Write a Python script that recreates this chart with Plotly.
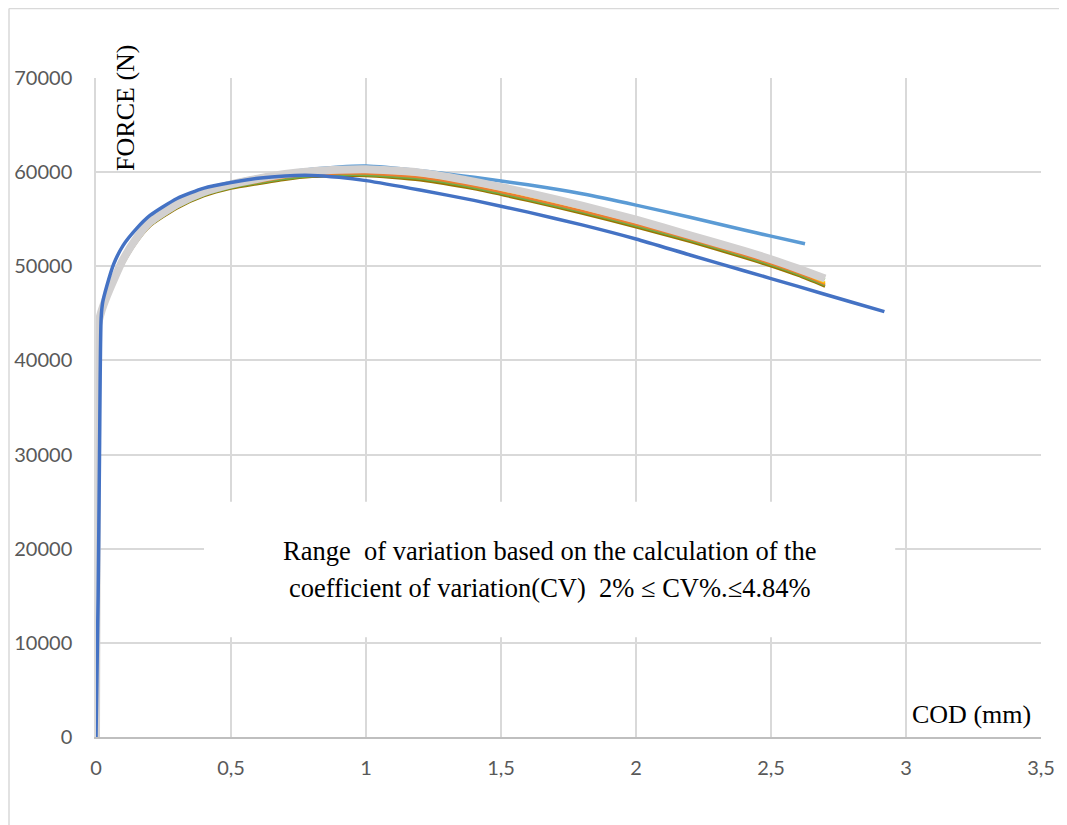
import plotly.graph_objects as go

# ---------------- data ----------------
x_ticks = [0, 0.5, 1, 1.5, 2, 2.5, 3, 3.5]
x_ticktext = ["0", "0,5", "1", "1,5", "2", "2,5", "3", "3,5"]
y_ticks = [0, 10000, 20000, 30000, 40000, 50000, 60000, 70000]
y_ticktext = ["0", "10000", "20000", "30000", "40000", "50000", "60000", "70000"]

# upper curve (light blue)
lb_x = [0, 0.004, 0.008, 0.02, 0.04, 0.065, 0.1, 0.15, 0.2, 0.3, 0.4, 0.5, 0.6, 0.7,
        0.8, 0.9, 1.0, 1.2, 1.4, 1.6, 1.8, 2.0, 2.2, 2.4, 2.5, 2.626]
lb_y = [0, 25000, 43800, 45500, 47000, 48700, 50900, 53200, 54900, 56800, 58100, 58900,
        59500, 59950, 60300, 60550, 60650, 60150, 59450, 58650, 57700, 56500, 55200,
        53850, 53200, 52400]

# lower curve (dark blue)
db_x = [0, 0.008, 0.013, 0.019, 0.025, 0.04, 0.065, 0.1, 0.15, 0.2, 0.3, 0.4, 0.5, 0.6,
        0.7, 0.8, 0.9, 1.0, 1.2, 1.4, 1.6, 1.8, 2.0, 2.2, 2.4, 2.6, 2.8, 2.92]
db_y = [0, 15000, 30000, 44500, 46200, 47900, 50200, 52200, 54000, 55400, 57200, 58300,
        58900, 59350, 59600, 59650, 59450, 59100, 58100, 57000, 55750, 54400, 52900,
        51200, 49530, 47860, 46180, 45180]

# bundle of the remaining specimens (common COD samples)
bundle_x = [0, 0.003, 0.006, 0.02, 0.04, 0.065, 0.1, 0.15, 0.2, 0.3, 0.4, 0.5, 0.6, 0.7,
            0.8, 0.9, 1.0, 1.2, 1.4, 1.6, 1.8, 2.0, 2.2, 2.4, 2.5, 2.6, 2.7]
olive_y = [0, 24000, 43000, 44700, 46300, 48000, 50200, 52550, 54250, 56150, 57450, 58250,
           58750, 59200, 59500, 59600, 59600, 59150, 58200, 56950, 55600, 54150, 52600,
           50900, 50000, 49000, 47850]
green_y = [0, 24200, 43100, 44800, 46400, 48100, 50300, 52650, 54350, 56250, 57550, 58350,
           58850, 59300, 59600, 59700, 59700, 59300, 58350, 57100, 55750, 54300, 52750,
           51050, 50150, 49150, 48000]
orange_y = [0, 24400, 43200, 44900, 46500, 48200, 50400, 52750, 54450, 56350, 57650, 58450,
            58950, 59450, 59750, 59850, 59850, 59450, 58500, 57250, 55900, 54450, 52900,
            51200, 50300, 49300, 48100]
yellow_y = [0, 24600, 43300, 45000, 46600, 48300, 50500, 52850, 54550, 56450, 57750, 58550,
            59100, 59600, 59950, 60100, 60100, 59700, 58750, 57500, 56150, 54700, 53150,
            51450, 50550, 49550, 48250]
lgreen_y = [0, 25000, 43500, 45300, 46900, 48600, 50800, 53100, 54800, 56700, 58000, 58800,
            59350, 59850, 60150, 60300, 60350, 60000, 59050, 57850, 56550, 55050, 53500,
            51800, 50900, 49900, 48600]
gray_y = [0, 25000, 43500, 45200, 46800, 48500, 50700, 53000, 54700, 56600, 57900, 58700,
          59300, 59800, 60100, 60250, 60300, 59950, 59000, 57800, 56450, 54950, 53300,
          51650, 50750, 49750, 48700]

note_line1 = "Range  of variation based on the calculation of the"
note_line2 = "coefficient of variation(CV)  2% \u2264 CV%.\u22644.84%"

# ---------------- figure ----------------
fig = go.Figure()

def add_line(x, y, color, width):
    fig.add_trace(go.Scatter(x=x, y=y, mode="lines", line=dict(color=color, width=width,
                             shape="spline", smoothing=0.6), hoverinfo="skip",
                             showlegend=False))

add_line(lb_x, lb_y, "#5B9BD5", 3.5)
add_line(bundle_x, olive_y, "#997300", 2.5)
add_line(bundle_x, green_y, "#70AD47", 2.5)
add_line(bundle_x, orange_y, "#ED7D31", 2.5)
add_line(bundle_x, yellow_y, "#FFC000", 2.5)
add_line(bundle_x, lgreen_y, "#A9D18E", 2.5)
add_line(bundle_x, gray_y, "#D2D0D0", 8)
add_line(db_x, db_y, "#4472C4", 3.5)

# the page body adds an 8px offset; plot area targeted at page px 96..1041 x 78..737
OFF = 8
W, H = 1067 - OFF, 825 - OFF
L, R, T, B = 96 - OFF, 26, 78 - OFF, 88
PX0, PX1, PY0, PY1 = 96, 1041, 78, 737

def px2paper(px, py):
    return (px - PX0) / (PX1 - PX0), (PY1 - py) / (PY1 - PY0)

bx0, by0 = px2paper(9, 8.5)
bx1, _ = px2paper(1075, 0)
_, byb = px2paper(0, 840)

fig.update_layout(
    width=W, height=H,
    margin=dict(l=L, r=R, t=T, b=B, pad=0, autoexpand=False),
    paper_bgcolor="white", plot_bgcolor="white",
    showlegend=False,
    xaxis=dict(range=[0, 3.5], tickvals=x_ticks, ticktext=x_ticktext,
               showgrid=True, gridcolor="#D9D9D9", gridwidth=1.5,
               zeroline=False, showline=True, linecolor="#BFBFBF", linewidth=1.5,
               ticks="", ticklabelstandoff=12, automargin=False,
               tickfont=dict(family="Lato", size=20, color="#595959")),
    yaxis=dict(range=[0, 70000], tickvals=y_ticks, ticktext=y_ticktext,
               showgrid=True, gridcolor="#D9D9D9", gridwidth=1.5,
               zeroline=False, showline=True, linecolor="#D9D9D9", linewidth=1.5,
               ticks="", ticklabelstandoff=18, automargin=False,
               tickfont=dict(family="Lato", size=20, color="#595959")),
    shapes=[
        dict(type="rect", xref="x", yref="y", x0=0.4, x1=2.96, y0=10600, y1=25000,
             fillcolor="white", line=dict(width=0), layer="between"),
        dict(type="line", xref="paper", yref="paper", x0=bx0, x1=bx0, y0=byb, y1=by0,
             line=dict(color="#D9D9D9", width=1.5)),
        dict(type="line", xref="paper", yref="paper", x0=bx0, x1=bx1, y0=by0, y1=by0,
             line=dict(color="#D9D9D9", width=1.5)),
    ],
    annotations=[
        dict(x=1.68, y=19760, xref="x", yref="y", text=note_line1, showarrow=False,
             font=dict(family="Liberation Serif", size=26.5, color="black")),
        dict(x=1.68, y=15830, xref="x", yref="y", text=note_line2, showarrow=False,
             font=dict(family="Liberation Serif", size=26.5, color="black")),
        dict(x=0.107, y=66810, xref="x", yref="y", text="FORCE (N)", textangle=-90,
             showarrow=False, font=dict(family="Liberation Serif", size=26, color="black")),
        dict(x=3.244, y=2443, xref="x", yref="y", text="COD (mm)", showarrow=False,
             font=dict(family="Liberation Serif", size=26, color="black")),
    ],
)

fig.write_html("out.html")
